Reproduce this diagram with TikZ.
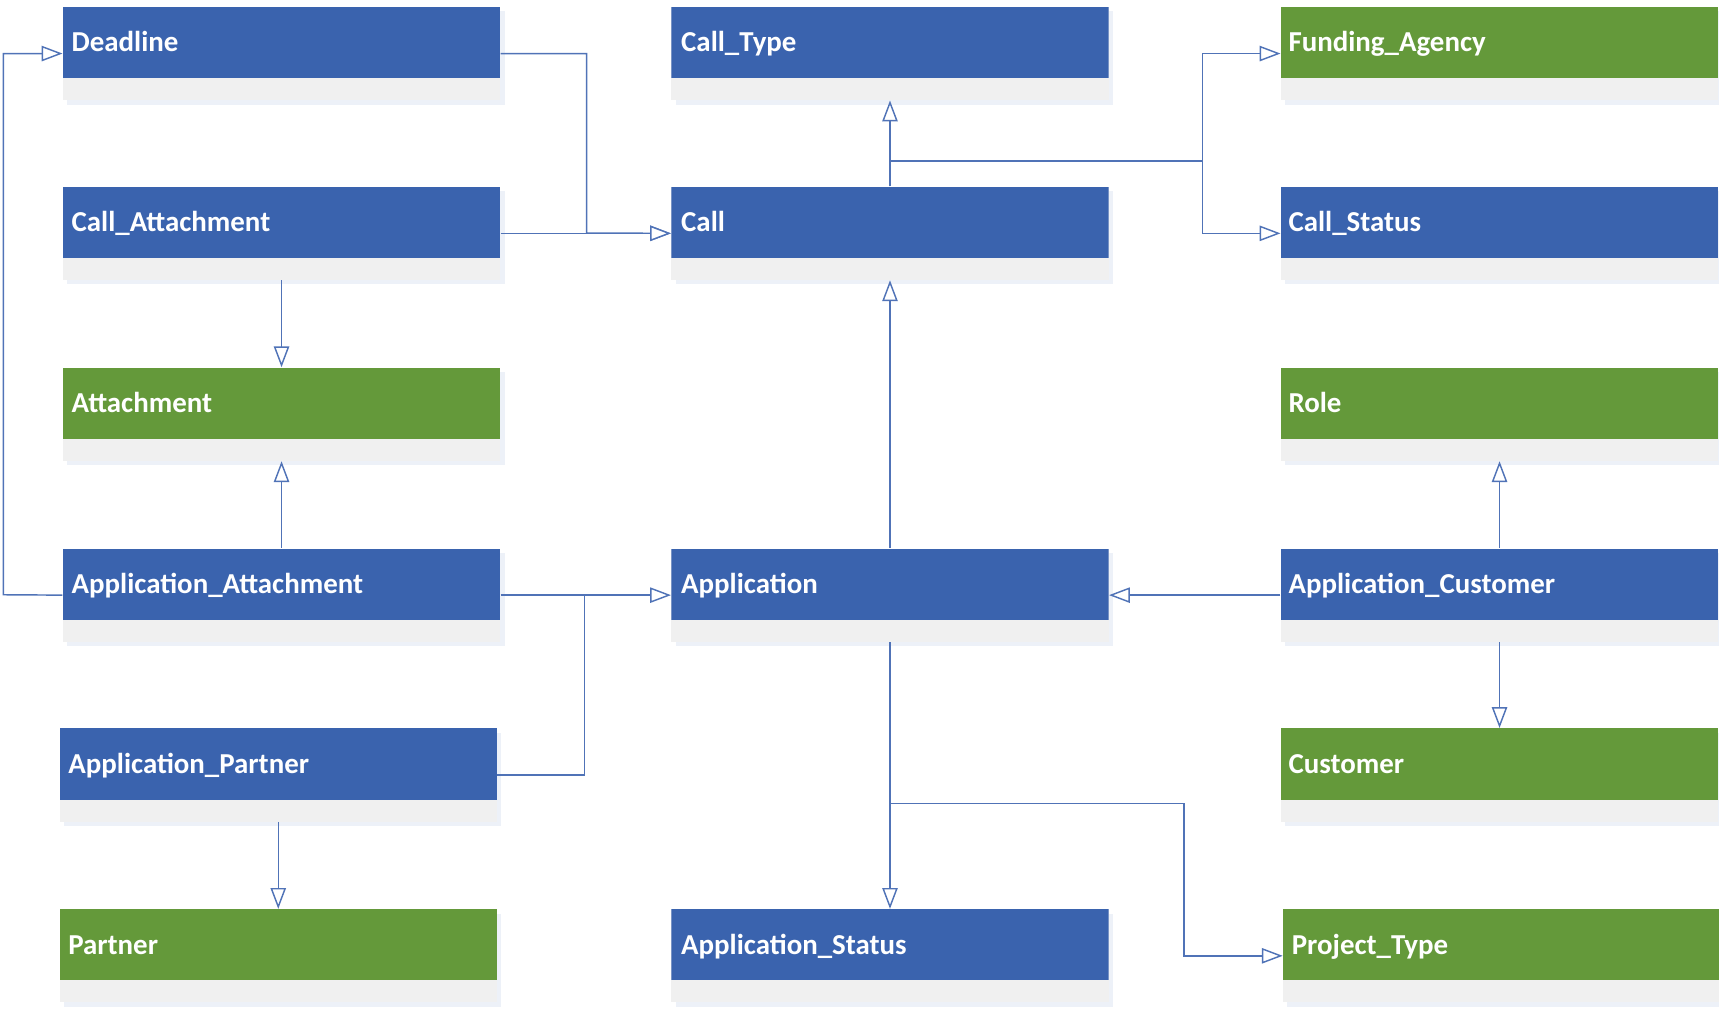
\documentclass[tikz,border=0pt]{standalone}
\usepackage{fontspec}
\setmainfont{Carlito}
\usetikzlibrary{arrows.meta,shadows}
\definecolor{hblue}{HTML}{3A63AE}
\definecolor{hgreen}{HTML}{64993A}
\definecolor{band}{HTML}{F0F0F0}
\definecolor{shad}{HTML}{EDF1F8}
\definecolor{conn}{HTML}{5073B7}
\begin{document}
\begin{tikzpicture}[x=0.02cm,y=-0.02cm,
  ent/.style={rectangle, minimum width=7.98cm, minimum height=1.7cm, inner sep=0pt,
    fill=band, anchor=north west,
    path picture={\fill[#1] (path picture bounding box.north west) rectangle ([yshift=0.4cm]path picture bounding box.south east);},
    general shadow={shadow xshift=0.08cm, shadow yshift=-0.08cm, fill=shad}},
  lbl/.style={anchor=base west, text=white, font=\bfseries\fontsize{15}{18}\selectfont, inner sep=0pt},
  conn/.style={draw=conn, line width=0.75pt},
  arr/.style={conn, -{Triangle[fill=white, length=0.38cm, width=0.28cm, line width=0.75pt]}}
]
\useasboundingbox (0,0) rectangle (1568,920);
% entities
\node[ent=hblue]  (dl)  at (57,6)     {};
\node[ent=hblue]  (ca)  at (57,170)   {};
\node[ent=hgreen] (at)  at (57,335)   {};
\node[ent=hblue]  (aa)  at (57,500)   {};
\node[ent=hblue]  (ap)  at (54,664)   {};
\node[ent=hgreen] (pa)  at (54,829)   {};
\node[ent=hblue]  (ct)  at (612,6)    {};
\node[ent=hblue]  (cl)  at (612,170)  {};
\node[ent=hblue]  (app) at (612,500)  {};
\node[ent=hblue]  (as)  at (612,829)  {};
\node[ent=hgreen] (fa)  at (1168,6)   {};
\node[ent=hblue]  (cs)  at (1168,170) {};
\node[ent=hgreen] (ro)  at (1168,335) {};
\node[ent=hblue]  (ac)  at (1168,500) {};
\node[ent=hgreen] (cu)  at (1168,664) {};
\node[ent=hgreen] (pt)  at (1170,829) {};
% labels
\node[lbl] (dl-t)  at ([xshift=0.16cm,yshift=0.03cm]dl.west)  {Deadline};
\node[lbl] (ca-t)  at ([xshift=0.16cm,yshift=0.03cm]ca.west)  {Call\_Attachment};
\node[lbl] (at-t)  at ([xshift=0.16cm,yshift=0.03cm]at.west)  {Attachment};
\node[lbl] (aa-t)  at ([xshift=0.16cm,yshift=0.03cm]aa.west)  {Application\_Attachment};
\node[lbl] (ap-t)  at ([xshift=0.16cm,yshift=0.03cm]ap.west)  {Application\_Partner};
\node[lbl] (pa-t)  at ([xshift=0.16cm,yshift=0.03cm]pa.west)  {Partner};
\node[lbl] (ct-t)  at ([xshift=0.18cm,yshift=0.03cm]ct.west)  {Call\_Type};
\node[lbl] (cl-t)  at ([xshift=0.18cm,yshift=0.03cm]cl.west)  {Call};
\node[lbl] (app-t) at ([xshift=0.18cm,yshift=0.03cm]app.west) {Application};
\node[lbl] (as-t)  at ([xshift=0.18cm,yshift=0.03cm]as.west)  {Application\_Status};
\node[lbl] (fa-t)  at ([xshift=0.14cm,yshift=0.03cm]fa.west)  {Funding\_Agency};
\node[lbl] (cs-t)  at ([xshift=0.14cm,yshift=0.03cm]cs.west)  {Call\_Status};
\node[lbl] (ro-t)  at ([xshift=0.14cm,yshift=0.03cm]ro.west)  {Role};
\node[lbl] (ac-t)  at ([xshift=0.14cm,yshift=0.03cm]ac.west)  {Application\_Customer};
\node[lbl] (cu-t)  at ([xshift=0.14cm,yshift=0.03cm]cu.west)  {Customer};
\node[lbl] (pt-t)  at ([xshift=0.16cm,yshift=0.03cm]pt.west)  {Project\_Type};
% junctions
\coordinate (j1) at (535,212.5);
\coordinate (j2) at (1097,147);
\coordinate (j3) at (533,542.5);
\coordinate (j4) at (811.5,733);
\coordinate (j5) at (3,542.5);
% connectors
\draw[arr] (dl.east) -| (j1) -- (cl.west);
\draw[arr] (ca.east) -- (cl.west);
\draw[arr] (ca.south) -- (at.north);
\draw[arr] (cl.north) -- (ct.south);
\draw[arr] (cl.north) |- (j2) |- (fa.west);
\draw[arr] (j2) |- (cs.west);
\draw[arr] (app.north) -- (cl.south);
\draw[arr] (aa.north) -- (at.south);
\draw[arr] (aa.west) -- (j5) |- (dl.west);
\draw[arr] (aa.east) -- (app.west);
\draw[conn] (ap.east) -| (j3);
\draw[arr] (ap.south) -- (pa.north);
\draw[arr] (ac.west) -- (app.east);
\draw[arr] (ac.north) -- (ro.south);
\draw[arr] (ac.south) -- (cu.north);
\draw[arr] (app.south) -- (as.north);
\draw[arr] (j4) -| ([xshift=-1.8cm]pt.west) -- (pt.west);
\end{tikzpicture}
\end{document}
